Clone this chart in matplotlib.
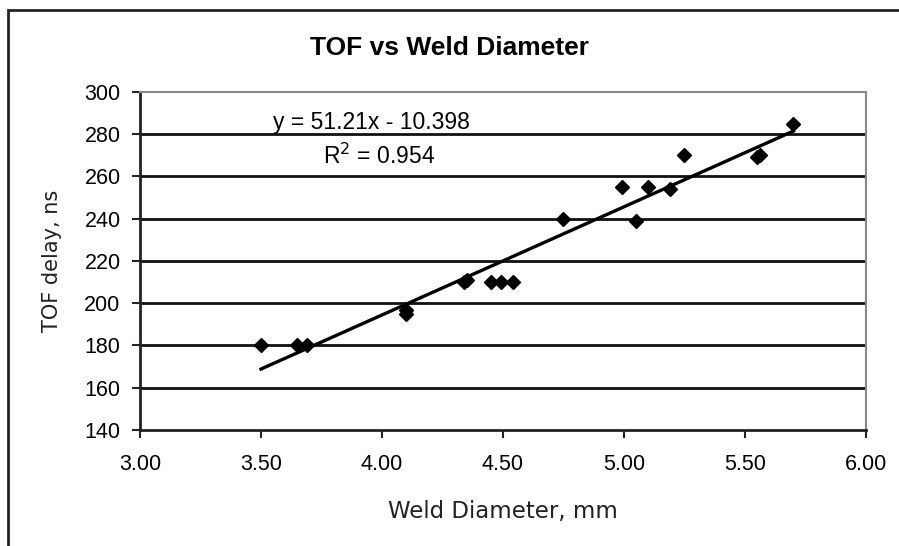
import numpy as np
import matplotlib.pyplot as plt
from matplotlib.patches import Rectangle

plt.rcParams['font.family'] = ['Liberation Sans', 'DejaVu Sans']

# 数据 (焊点直径, TOF延迟)
weld_diameter = [3.50, 3.65, 3.69, 4.10, 4.10, 4.34, 4.35, 4.45, 4.49, 4.54,
                 4.75, 4.99, 5.05, 5.10, 5.19, 5.25, 5.55, 5.56, 5.70]
tof_delay = [180, 180, 180, 195, 197, 210, 211, 210, 210, 210,
             240, 255, 239, 255, 254, 270, 269, 270, 285]

# 趋势线系数
slope = 51.21
intercept = -10.398
r_squared = 0.954

x_ticks = [3.0, 3.5, 4.0, 4.5, 5.0, 5.5, 6.0]
y_ticks = list(range(140, 301, 20))

fig = plt.figure(figsize=(8.99, 5.46), dpi=100)
ax = fig.add_axes([0.1557, 0.2125, 0.8076, 0.619])

# 外框
fig.add_artist(Rectangle((8 / 899, -0.1), 1.2, 1 - 10 / 546 + 0.1,
                         transform=fig.transFigure, fill=False,
                         edgecolor='#222222', linewidth=2))

# 网格线
for yv in y_ticks[1:-1]:
    ax.axhline(yv, color='#111111', linewidth=2, zorder=1)

# 趋势线
xl = np.array([min(weld_diameter), max(weld_diameter)])
ax.plot(xl, slope * xl + intercept, color='black', linewidth=2.4, zorder=2)

# 散点
ax.plot(weld_diameter, tof_delay, 'D', color='black', markersize=7, zorder=3)

ax.set_xlim(3.0, 6.0)
ax.set_ylim(140, 300)
ax.set_xticks(x_ticks)
ax.set_xticklabels([f'{v:.2f}' for v in x_ticks])
ax.set_yticks(y_ticks)
ax.tick_params(axis='both', labelsize=15.5, direction='out', length=6, width=1.5, color='#222222')
ax.tick_params(axis='x', pad=11)
ax.tick_params(axis='y', pad=8)

for side in ['top', 'right']:
    ax.spines[side].set_color('#888888')
    ax.spines[side].set_linewidth(1.5)
for side in ['left', 'bottom']:
    ax.spines[side].set_color('#222222')
    ax.spines[side].set_linewidth(2)

ax.set_xlabel('Weld Diameter, mm', fontsize=16.5, family='DejaVu Sans', labelpad=18,
              color='#222222')
ax.set_ylabel('TOF delay, ns', fontsize=15, family='DejaVu Sans', labelpad=16,
              color='#222222')
fig.text(0.5, 0.912, 'TOF vs Weld Diameter', fontsize=19, fontweight='bold',
         ha='center', va='center')

ax.text(3.55, 285.5, f'y = {slope}x - {abs(intercept)}', fontsize=16.5, va='center')
ax.text(3.755, 269.5, f'R$^2$ = {r_squared}', fontsize=16.5, va='center')

plt.savefig('out.png', dpi=100)
plt.close()
